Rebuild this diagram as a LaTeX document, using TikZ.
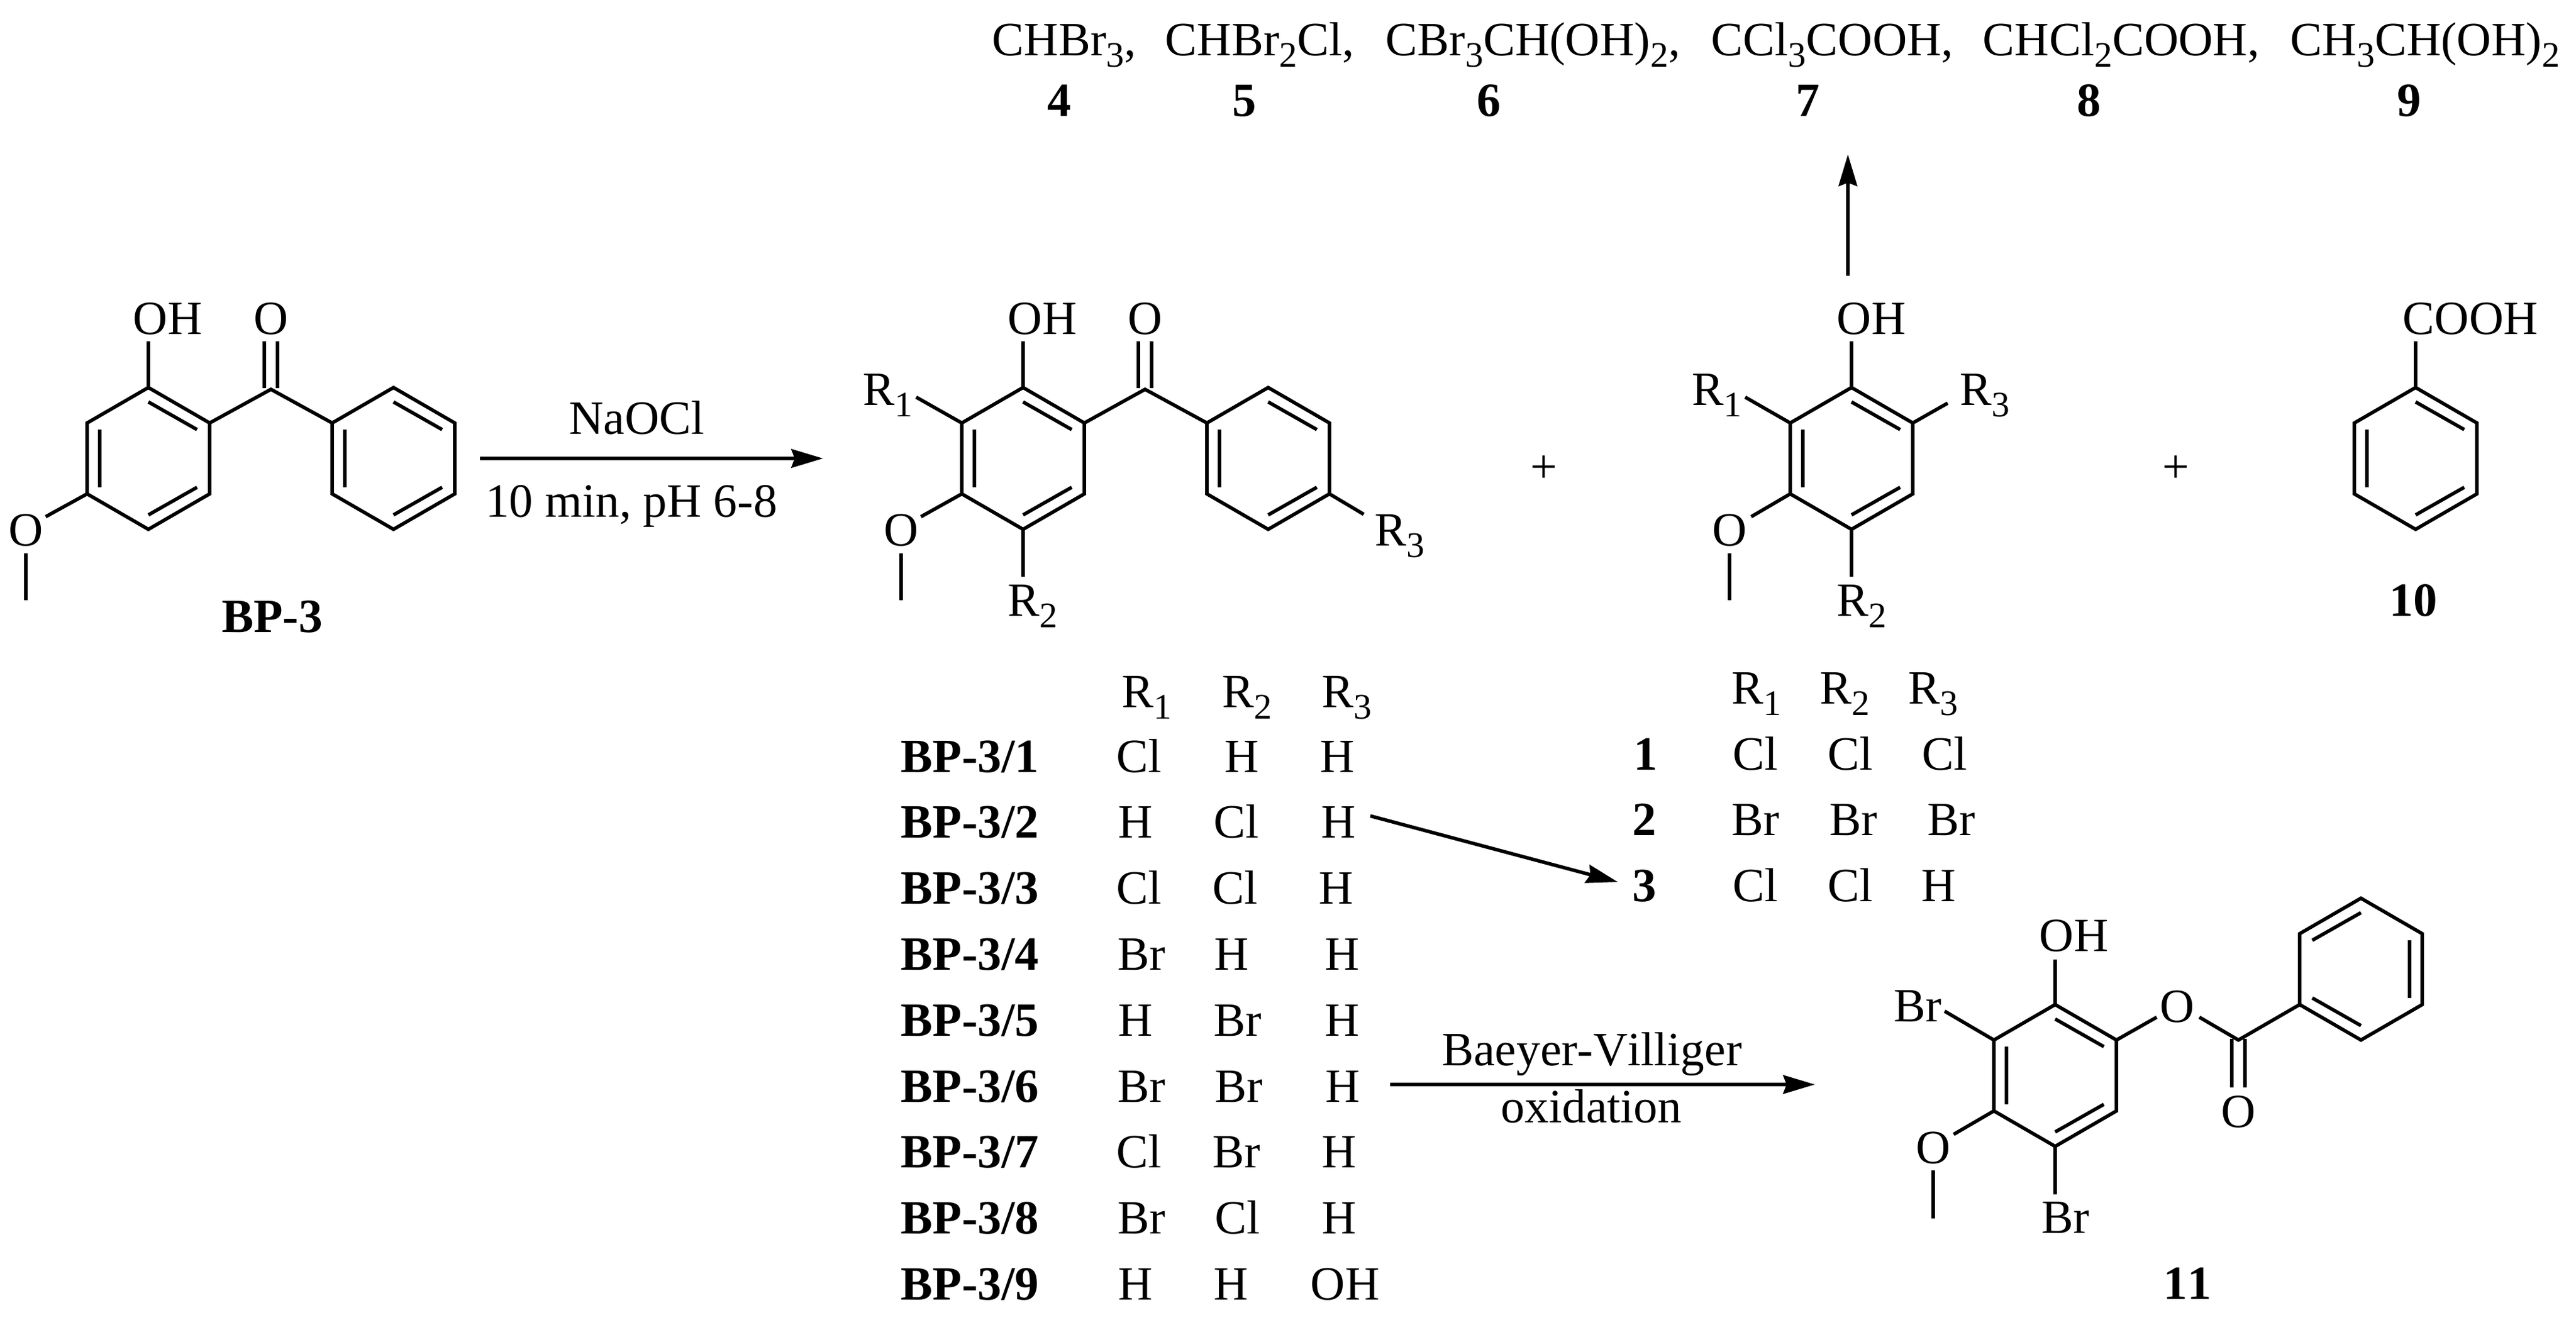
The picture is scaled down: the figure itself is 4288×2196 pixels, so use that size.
\documentclass[tikz,border=0pt]{standalone}
\usepackage{fontspec}
\setmainfont[Kerning=Off]{Liberation Serif}
\usetikzlibrary{arrows.meta}
\newcommand{\rsub}[1]{\raisebox{-.25em}{\fontsize{17}{17}\selectfont #1}}
\tikzset{
  bond/.style={line width=1.65pt},
  rxn/.style={line width=1.65pt,-{Stealth[length=15pt,width=8.8pt,inset=1.6pt]}},
  txt/.style={inner sep=0pt,anchor=base west,font=\fontsize{22.6}{26}\selectfont},
  mid/.style={inner sep=0pt,anchor=base,font=\fontsize{22.6}{26}\selectfont},
  num/.style={mid,font=\fontsize{22.6}{26}\selectfont\bfseries},
  numw/.style={txt,font=\fontsize{22.6}{26}\selectfont\bfseries},
  ring/.pic={
    \draw[bond] (0,-118) -- (102,-59) -- (102,59) -- (0,118) -- (-102,59) -- (-102,-59) -- cycle;
    \draw[bond] (0,-94) -- (81,-48) (81,48) -- (0,94) (-81,-48) -- (-81,48);
  },
}
\begin{document}
\begin{tikzpicture}[x=0.01cm,y=-0.01cm]
  \useasboundingbox (0,0) rectangle (4288,2196);

  % top row
  \node[txt] (f4) at (1651,92) {CHBr\rsub{3},};
  \node[txt] (f5) at (1939,92) {CHBr\rsub{2}Cl,};
  \node[txt] (f6) at (2306,92) {CBr\rsub{3}CH(OH)\rsub{2},};
  \node[txt] (f7) at (2848,92) {CCl\rsub{3}COOH,};
  \node[txt] (f8) at (3300,92) {CHCl\rsub{2}COOH,};
  \node[txt] (f9) at (3812,92) {CH\rsub{3}CH(OH)\rsub{2}};
  \node[num] (n4) at (1763,193) {4};
  \node[num] (n5) at (2071,193) {5};
  \node[num] (n6) at (2478,193) {6};
  \node[num] (n7) at (3009,193) {7};
  \node[num] (n8) at (3477,193) {8};
  \node[num] (n9) at (4010,193) {9};

  % BP-3
  \pic at (247,763) {ring};
  \pic at (655,763) {ring};
  \draw[bond] (349,704) -- (451,648) -- (553,704);
  \draw[bond] (440,646) -- (440,568) (462,646) -- (462,568);
  \draw[bond] (247,645) -- (247,568);
  \draw[bond] (145,822) -- (76,860);
  \draw[bond] (43,921) -- (43,999);
  \node[txt] (oh0) at (221,556) {OH};
  \node[mid] (o0) at (451,556) {O};
  \node[mid] (me0) at (43,908) {O};
  \node[num] (bp3) at (453,1052) {BP-3};

  \coordinate (a1s) at (799,763);
  \coordinate (a1e) at (1370,763);
  \draw[rxn] (a1s) -- (a1e);
  \node[mid] (naocl) at (1060,722) {NaOCl};
  \node[mid] (cond) at (1051,860) {10 min, pH 6-8};

  % halogenated BP-3
  \pic at (1703,763) {ring};
  \pic at (2111,763) {ring};
  \draw[bond] (1805,704) -- (1906,648) -- (2009,704);
  \draw[bond] (1895,646) -- (1895,568) (1917,646) -- (1917,568);
  \draw[bond] (1703,645) -- (1703,568);
  \draw[bond] (1601,704) -- (1525,661);
  \draw[bond] (1601,822) -- (1533,860);
  \draw[bond] (1500,921) -- (1500,999);
  \draw[bond] (1703,881) -- (1703,960);
  \draw[bond] (2213,822) -- (2270,856);
  \node[txt] (oh1) at (1677,556) {OH};
  \node[mid] (o1) at (1906,556) {O};
  \node[txt] (r11) at (1436,674) {R\rsub{1}};
  \node[mid] (me1) at (1500,908) {O};
  \node[txt] (r12) at (1677,1025) {R\rsub{2}};
  \node[txt] (r13) at (2288,908) {R\rsub{3}};
  \node[mid] (plus1) at (2570,803) {+};

  % phenol
  \pic at (3082,763) {ring};
  \draw[bond] (3082,645) -- (3082,568);
  \draw[bond] (2980,704) -- (2905,661);
  \draw[bond] (3184,704) -- (3242,671);
  \draw[bond] (2980,822) -- (2915,860);
  \draw[bond] (2879,921) -- (2879,999);
  \draw[bond] (3082,881) -- (3082,960);
  \node[txt] (oh2) at (3057,556) {OH};
  \node[txt] (r21) at (2816,674) {R\rsub{1}};
  \node[txt] (r23) at (3262,674) {R\rsub{3}};
  \node[mid] (me2) at (2879,908) {O};
  \node[txt] (r22) at (3057,1025) {R\rsub{2}};
  \node[mid] (plus2) at (3622,803) {+};

  \coordinate (a2s) at (3076,459);
  \coordinate (a2e) at (3076,257);
  \draw[rxn] (a2s) -- (a2e);

  % benzoic acid
  \pic at (4021,763) {ring};
  \draw[bond] (4021,645) -- (4021,568);
  \node[txt] (cooh) at (3999,556) {COOH};
  \node[num] (n10) at (4017,1025) {10};

  % left table
  \node[txt] (h1) at (1867,1177) {R\rsub{1}};
  \node[txt] (h2) at (2034,1177) {R\rsub{2}};
  \node[txt] (h3) at (2200,1177) {R\rsub{3}};
  \node[numw] (b1) at (1499,1285) {BP-3/1};
  \node[numw] (b2) at (1499,1394) {BP-3/2};
  \node[numw] (b3) at (1499,1504) {BP-3/3};
  \node[numw] (b4) at (1499,1614) {BP-3/4};
  \node[numw] (b5) at (1499,1724) {BP-3/5};
  \node[numw] (b6) at (1499,1834) {BP-3/6};
  \node[numw] (b7) at (1499,1943) {BP-3/7};
  \node[numw] (b8) at (1499,2053) {BP-3/8};
  \node[numw] (b9) at (1499,2163) {BP-3/9};
  \node[txt] (c11) at (1858,1285) {Cl};
  \node[txt] (c12) at (2038,1285) {H};
  \node[txt] (c13) at (2197,1285) {H};
  \node[txt] (c21) at (1861,1394) {H};
  \node[txt] (c22) at (2020,1394) {Cl};
  \node[txt] (c23) at (2199,1394) {H};
  \node[txt] (c31) at (1858,1504) {Cl};
  \node[txt] (c32) at (2018,1504) {Cl};
  \node[txt] (c33) at (2195,1504) {H};
  \node[txt] (c41) at (1860,1614) {Br};
  \node[txt] (c42) at (2021,1614) {H};
  \node[txt] (c43) at (2205,1614) {H};
  \node[txt] (c51) at (1861,1724) {H};
  \node[txt] (c52) at (2020,1724) {Br};
  \node[txt] (c53) at (2205,1724) {H};
  \node[txt] (c61) at (1860,1834) {Br};
  \node[txt] (c62) at (2022,1834) {Br};
  \node[txt] (c63) at (2206,1834) {H};
  \node[txt] (c71) at (1858,1943) {Cl};
  \node[txt] (c72) at (2018,1943) {Br};
  \node[txt] (c73) at (2200,1943) {H};
  \node[txt] (c81) at (1860,2053) {Br};
  \node[txt] (c82) at (2022,2053) {Cl};
  \node[txt] (c83) at (2200,2053) {H};
  \node[txt] (c91) at (1861,2163) {H};
  \node[txt] (c92) at (2020,2163) {H};
  \node[txt] (c93) at (2181,2163) {OH};

  % right table
  \node[txt] (k1) at (2882,1171) {R\rsub{1}};
  \node[txt] (k2) at (3029,1171) {R\rsub{2}};
  \node[txt] (k3) at (3176,1171) {R\rsub{3}};
  \node[num] (m1) at (2739,1281) {1};
  \node[num] (m2) at (2737,1390) {2};
  \node[num] (m3) at (2737,1500) {3};
  \node[txt] (d11) at (2884,1281) {Cl};
  \node[txt] (d12) at (3042,1281) {Cl};
  \node[txt] (d13) at (3199,1281) {Cl};
  \node[txt] (d21) at (2882,1390) {Br};
  \node[txt] (d22) at (3045,1390) {Br};
  \node[txt] (d23) at (3208,1390) {Br};
  \node[txt] (d31) at (2884,1500) {Cl};
  \node[txt] (d32) at (3042,1500) {Cl};
  \node[txt] (d33) at (3198,1500) {H};

  \coordinate (a3s) at (2281,1358);
  \coordinate (a3e) at (2693,1468);
  \draw[rxn] (a3s) -- (a3e);

  \coordinate (a4s) at (2314,1805);
  \coordinate (a4e) at (3021,1805);
  \draw[rxn] (a4s) -- (a4e);
  \node[mid] (bv1) at (2650,1773) {Baeyer-Villiger};
  \node[mid] (bv2) at (2649,1868) {oxidation};

  % compound 11
  \pic at (3421,1790) {ring};
  \pic[xscale=-1] at (3930,1613) {ring};
  \draw[bond] (3421,1672) -- (3421,1597);
  \draw[bond] (3319,1731) -- (3237,1683);
  \draw[bond] (3523,1731) -- (3590,1693);
  \draw[bond] (3661,1693) -- (3726,1731) -- (3828,1672);
  \draw[bond] (3715,1729) -- (3715,1810) (3737,1729) -- (3737,1810);
  \draw[bond] (3319,1849) -- (3252,1888);
  \draw[bond] (3218,1948) -- (3218,2028);
  \draw[bond] (3421,1908) -- (3421,1988);
  \node[txt] (oh3) at (3394,1583) {OH};
  \node[txt] (br1) at (3152,1700) {Br};
  \node[mid] (o3) at (3624,1701) {O};
  \node[mid] (o4) at (3726,1876) {O};
  \node[mid] (me3) at (3218,1936) {O};
  \node[txt] (br2) at (3398,2052) {Br};
  \node[num] (n11) at (3641,2162) {11};
\end{tikzpicture}
\end{document}
